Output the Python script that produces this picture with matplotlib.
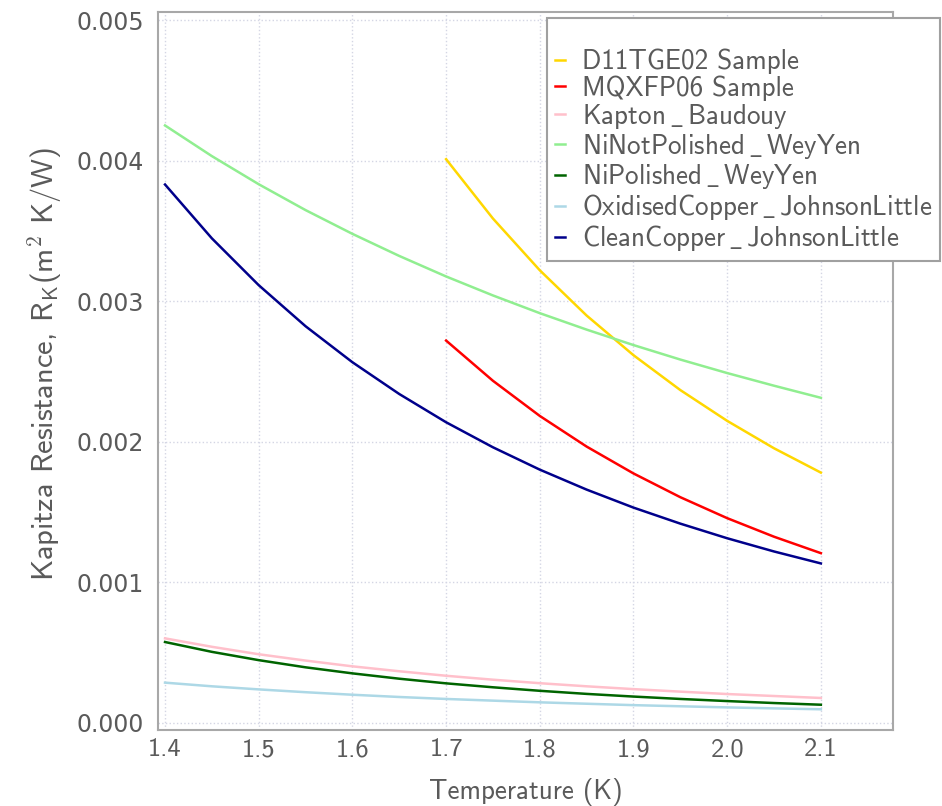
import numpy as np
import matplotlib
matplotlib.use("Agg")
import matplotlib.pyplot as plt

# Temperatures (K)
temp_full = [1.40, 1.45, 1.50, 1.55, 1.60, 1.65, 1.70, 1.75,
             1.80, 1.85, 1.90, 1.95, 2.00, 2.05, 2.10]
temp_sample = [1.70, 1.75, 1.80, 1.85, 1.90, 1.95, 2.00, 2.05, 2.10]

# Kapitza resistance (m^2 K/W)
d11tge02 = [0.004010, 0.003588, 0.003220, 0.002898, 0.002616, 0.002368, 0.002149, 0.001954, 0.001781]
mqxfp06 = [0.002720, 0.002434, 0.002184, 0.001966, 0.001775, 0.001606, 0.001457, 0.001325, 0.001208]
kapton_baudouy = [0.000602, 0.000542, 0.000489, 0.000444, 0.000403, 0.000368, 0.000336, 0.000308,
                  0.000283, 0.000261, 0.000241, 0.000223, 0.000206, 0.000192, 0.000178]
ni_not_polished = [0.004250, 0.004032, 0.003832, 0.003648, 0.003479, 0.003322, 0.003176, 0.003041,
                   0.002915, 0.002798, 0.002688, 0.002585, 0.002489, 0.002399, 0.002313]
ni_polished = [0.000576, 0.000506, 0.000447, 0.000396, 0.000353, 0.000315, 0.000282, 0.000254,
               0.000229, 0.000207, 0.000188, 0.000171, 0.000156, 0.000142, 0.000130]
oxidised_copper = [0.000287, 0.000261, 0.000239, 0.000219, 0.000201, 0.000185, 0.000171, 0.000159,
                   0.000147, 0.000137, 0.000127, 0.000119, 0.000111, 0.000104, 0.0000976]
clean_copper = [0.003830, 0.003447, 0.003114, 0.002822, 0.002566, 0.002340, 0.002139, 0.001961,
                0.001802, 0.001660, 0.001532, 0.001418, 0.001314, 0.001220, 0.001135]

series = [
    ("D11TGE02 Sample", temp_sample, d11tge02, "gold"),
    ("MQXFP06 Sample", temp_sample, mqxfp06, "red"),
    ("Kapton_Baudouy", temp_full, kapton_baudouy, "pink"),
    ("NiNotPolished_WeyYen", temp_full, ni_not_polished, "lightgreen"),
    ("NiPolished_WeyYen", temp_full, ni_polished, "darkgreen"),
    ("OxidisedCopper_JohnsonLittle", temp_full, oxidised_copper, "lightblue"),
    ("CleanCopper_JohnsonLittle", temp_full, clean_copper, "darkblue"),
]

xticks = [1.4, 1.5, 1.6, 1.7, 1.8, 1.9, 2.0, 2.1]
yticks = [0.000, 0.001, 0.002, 0.003, 0.004, 0.005]

text_color = "#5a5a5a"
plt.rcParams["mathtext.fontset"] = "cm"
plt.rcParams["font.family"] = "cmss10"

fig = plt.figure(figsize=(9.42, 8.06), dpi=100)
ax = fig.add_axes([158 / 942, 1 - 730 / 806, (893 - 158) / 942, (730 - 12) / 806])

for name, t, r, c in series:
    # underscore via mathtext, the cmss10 font has no plain "_"
    ax.plot(t, r, color=c, lw=1.8, label=name.replace("_", r"$\,\_\,$"))

ax.set_xlim(1.3925, 2.177)
ax.set_ylim(-0.0000498, 0.005057)
ax.set_xticks(xticks)
ax.set_yticks(yticks)
ax.set_xticklabels([f"{v:.1f}" for v in xticks], fontsize=19, color=text_color)
ax.set_yticklabels([f"{v:.3f}" for v in yticks], family="DejaVu Sans", fontsize=17, color=text_color)
ax.tick_params(axis="y", length=0, pad=10)
ax.tick_params(axis="x", length=0, pad=6)

ax.grid(True, linestyle=":", color="#d4d6e4", lw=1)
for sp in ax.spines.values():
    sp.set_color("#a8a8a8")
    sp.set_linewidth(1.5)

ax.set_xlabel("Temperature (K)", fontsize=19.5, color=text_color, labelpad=12)
ax.set_ylabel(r"Kapitza Resistance, R$_{\mathsf{K}}$(m$^{2}$ K/W)",
              fontsize=22, color=text_color, labelpad=10)
ax.yaxis.set_label_coords(-0.128, 0.51)

leg = ax.legend(loc="upper left", bbox_to_anchor=(547 / 942, 1 - 18 / 806),
                bbox_transform=fig.transFigure, fontsize=19.5, title=" ", title_fontsize=17,
                fancybox=False, framealpha=1, edgecolor="#a0a0a0", borderaxespad=0,
                handlelength=0.4, handletextpad=0.6, labelspacing=0.04, borderpad=0.28)
leg.get_frame().set_linewidth(1.5)
for txt in leg.get_texts():
    txt.set_color(text_color)

fig.savefig("out.png", dpi=100)
